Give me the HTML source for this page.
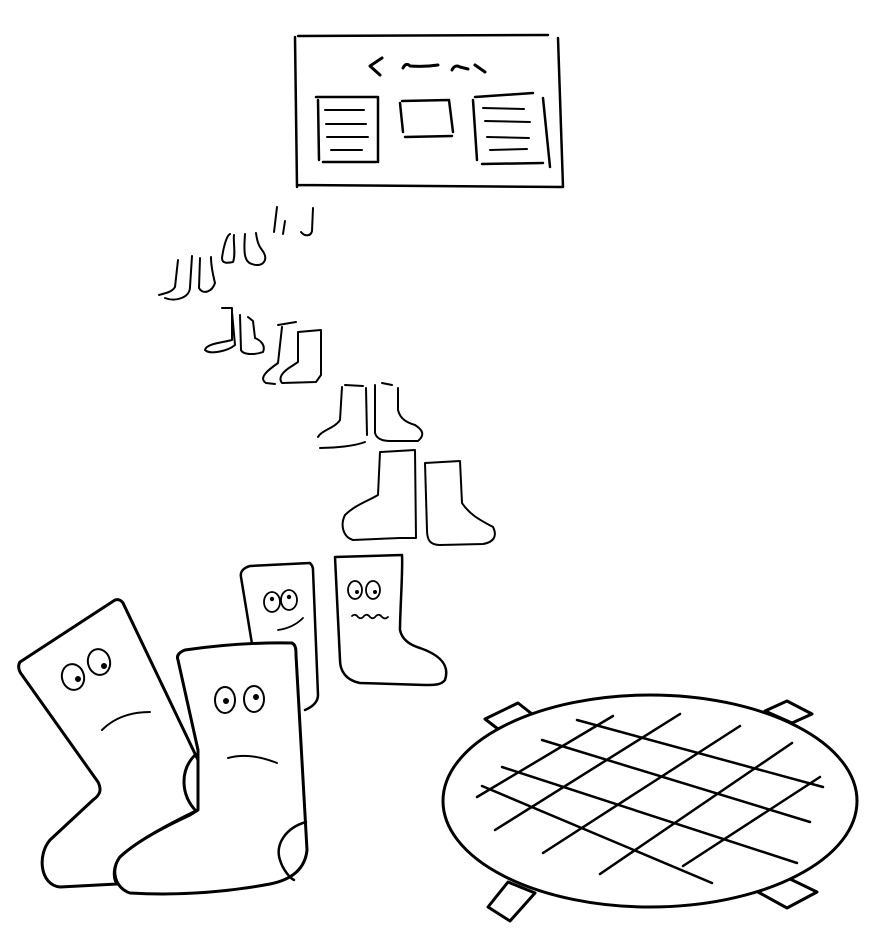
<!DOCTYPE html>
<html><head><meta charset="utf-8"><style>html,body{margin:0;padding:0;background:#fff}svg{display:block}</style></head>
<body>
<svg width="892" height="935" viewBox="0 0 892 935" xmlns="http://www.w3.org/2000/svg" fill="none" stroke="#000" stroke-linecap="round" stroke-linejoin="round">
<!-- board -->
<g stroke-width="2.5">
<path d="M298,36 L548,35 M295,37 L297,187 M298,185 L563,187 M558,38 L563,187"/>
<path d="M316,97 L378,97 L378,162 M318,100 L319,160 M323,162 L376,162"/>
<path d="M325,110 L364,110 M326,124 L366,124 M327,137 L368,137 M331,150 L362,150" stroke-width="2"/>
<path d="M402,101 L449,100 L453,132 M400,103 L403,132 M405,137 L452,136"/>
<path d="M475,97 L533,93 M473,100 L477,160 M482,164 L543,163 M543,98 L550,167"/>
<path d="M483,108 L524,109 M485,121 L530,122 M487,137 L529,138 M490,150 L527,149" stroke-width="2"/>
<path d="M382,58 L370,66 L380,75 M403,68 Q406,62 410,66 Q425,67 438,65 M452,70 Q455,64 460,67 L468,69 M475,65 L485,72" stroke-width="3"/>
</g>
<!-- small far boots -->
<g stroke-width="2">
<path d="M277,207 L274,232 M285,221 L283,234 M313,208 L312,231 C311,236 305,237 301,232"/>
<path d="M230,234 C226,236 223,250 222,258 C222,264 228,263 233,262 C236,255 233,240 234,235"/>
<path d="M245,234 C244,248 243,262 252,264 C262,268 270,260 262,250 C258,245 257,240 256,233"/>
<path d="M178,260 L175,287 C172,292 166,293 159,295 M165,298 C175,302 190,298 190,287 L192,256"/>
<path d="M200,258 L199,288 C203,295 212,292 215,283 C213,275 211,266 211,257"/>
<path d="M222,308 L232,308 L232,340 C220,343 206,344 205,350 C210,355 228,351 235,345 L232,312"/>
<path d="M240,315 L241,350 C243,355 255,355 263,352 C266,345 260,340 255,338 L253,321 L248,317"/>
<path d="M278,325 L296,322 M282,327 L278,363 C268,370 258,378 266,383 L275,384"/>
<path d="M298,332 L321,330 L321,375 L316,382 L282,383 C278,378 282,372 292,366 L298,362 Z"/>
<path d="M345,385 L363,386 M342,387 L340,420 C335,428 322,430 318,437 M320,448 C335,448 355,446 365,442 M366,388 L367,435"/>
<path d="M382,383 L392,385 M375,385 L375,433 C377,440 385,441 390,441 L418,441 C425,435 423,430 415,425 C405,422 400,418 398,410 L398,388"/>
<path d="M380,452 L415,450 L416,538 L400,538 L353,540 C343,537 340,525 345,515 C355,505 370,500 378,495 Z"/>
<path d="M425,463 L460,461 L462,503 C470,515 480,520 493,527 C497,535 495,542 483,544 L440,545 C430,545 427,540 427,530 Z"/>
</g>
<!-- right sock wavy -->
<g stroke-width="2.5">
<path d="M335,557 L402,555 C403,570 400,610 400,630 C402,640 410,645 420,648 C440,655 450,665 445,680 C441,685 435,685 425,685 L360,683 C345,680 340,670 340,660 Z" fill="#fff"/>
</g>
<g stroke-width="1.8">
<ellipse cx="355" cy="590" rx="7" ry="9"/><ellipse cx="373" cy="590" rx="7" ry="9"/>
<path d="M352,616 Q355,613 358,617 Q361,620 364,616 Q367,613 370,617 Q373,620 376,616 Q379,613 382,617 Q385,620 388,617"/>
</g>
<circle cx="357" cy="592" r="2" fill="#000" stroke="none"/><circle cx="375" cy="592" r="2" fill="#000" stroke="none"/>
<!-- middle smiling sock -->
<g stroke-width="2.5">
<path d="M253,650 L241,577 C240,572 243,568 250,566 L310,563 C312,565 313,567 313,570 L318,695 C318,702 312,707 305,710" fill="#fff"/>
</g>
<g stroke-width="1.8">
<ellipse cx="272" cy="602" rx="8" ry="10"/><ellipse cx="289" cy="600" rx="8" ry="10"/>
<path d="M278,630 Q293,628 303,618"/>
</g>
<circle cx="272" cy="599" r="2.2" fill="#000" stroke="none"/><circle cx="289" cy="597" r="2.2" fill="#000" stroke="none"/>
<!-- big left sock -->
<g stroke-width="3">
<path d="M20,662 L115,600 C118,599 121,600 123,603 L198,760 L198,810 Q140,838 120,857 C113,866 113,878 117,884 L60,887 C40,885 37,855 50,840 L93,800 C100,795 102,790 98,782 L22,675 C18,670 18,665 20,662 Z" fill="#fff"/>
<path d="M195,755 C180,770 180,795 197,812"/>
</g>
<g stroke-width="2">
<ellipse cx="73" cy="677" rx="11" ry="13" transform="rotate(-15 73 677)"/><ellipse cx="99" cy="662" rx="11" ry="13" transform="rotate(-15 99 662)"/>
<path d="M102,730 Q120,712 150,712"/>
</g>
<circle cx="78" cy="679" r="3" fill="#000" stroke="none"/><circle cx="104" cy="666" r="3" fill="#000" stroke="none"/>
<!-- front sock -->
<g stroke-width="3">
<path d="M178,660 C176,655 180,652 185,650 Q240,642 292,643 C296,645 296,650 296,655 L307,850 C305,870 290,880 270,884 Q200,897 130,893 C115,888 110,870 120,857 Q140,838 190,815 L198,810 L198,750 Z" fill="#fff"/>
<path d="M306,822 C285,828 275,845 280,860 C283,870 290,878 294,880" stroke-width="2.5"/>
</g>
<g stroke-width="2">
<ellipse cx="225" cy="700" rx="10" ry="13"/><ellipse cx="254" cy="699" rx="10" ry="13"/>
<path d="M228,758 Q250,752 277,763"/>
</g>
<circle cx="226" cy="701" r="3" fill="#000" stroke="none"/><circle cx="256" cy="697" r="3" fill="#000" stroke="none"/>
<!-- mat -->
<g stroke-width="3">
<path d="M485,719 L518,703 L532,714 L498,729 Z M765,711 L787,701 L812,714 L792,723 Z M488,907 L510,921 L535,893 L508,882 Z M758,892 L787,908 L817,892 L788,878 Z"/>
<ellipse cx="650" cy="801" rx="207" ry="106" fill="#fff"/>
<path d="M477,797 L613,716 M495,830 L680,714 M543,853 L740,726 M600,874 L792,743 M683,866 L820,777 M577,720 L823,787 M542,740 L810,822 M502,767 L797,863 M482,786 L712,883" stroke-width="2.5"/>
</g>
</svg>
</body></html>
